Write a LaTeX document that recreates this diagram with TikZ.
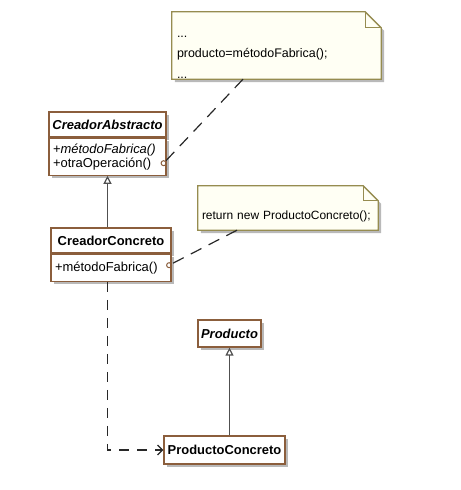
\documentclass[tikz,border=0pt]{standalone}
\usepackage{fontspec}
\setmainfont{Liberation Sans}
\usetikzlibrary{positioning,arrows.meta,shadows}
\definecolor{clsline}{RGB}{139,94,60}
\definecolor{noteline}{RGB}{150,140,80}
\definecolor{notefill}{RGB}{255,255,244}
\definecolor{shadowgray}{RGB}{185,185,185}
\definecolor{linegray}{RGB}{80,80,80}
\definecolor{linedark}{RGB}{40,40,40}
\pgfdeclarelayer{back}
\pgfsetlayers{back,main}

\begin{document}
\begin{tikzpicture}[x=1bp, y=-1bp,
    every node/.style={font=\fontsize{13}{14}\selectfont, inner sep=0pt},
    shade/.style={drop shadow={shadow xshift=3bp, shadow yshift=-3bp,
        fill=shadowgray, opacity=1}},
    cls/.style={draw=clsline, fill=white, line width=1.2bp, shade,
        font=\fontsize{13}{14}\selectfont\bfseries},
    ops/.style={cls, font=\fontsize{13}{14}\selectfont, align=left,
        inner xsep=4bp},
    note/.style={align=left, inner xsep=5bp, font=\fontsize{12}{20.5}\selectfont},
    notebg/.style={fill=notefill, draw=noteline, line width=1.3bp, shade},
    inh/.style={draw=linegray, line width=1.2bp,
        -{Triangle[open, length=8bp, width=8bp]}},
    dep/.style={draw=linedark, line width=1.2bp, dash pattern=on 10bp off 8bp,
        -{Straight Barb[length=5bp, width=10bp]}},
    link/.style={draw=linedark, line width=1.2bp, dash pattern=on 12bp off 8bp,
        shorten >=2.5bp}]
  \useasboundingbox (0,0) rectangle (461,490);

  % classes
  \node[cls, minimum width=117bp, minimum height=25bp] (ca) at (107.5,124.5)
    {\textit{CreadorAbstracto}};
  \node[ops, text width=109bp, minimum height=37bp, below=0pt of ca] (ca-ops)
    {+\textit{métodoFabrica()}\\+otraOperación()};
  \node[cls, minimum width=120bp, minimum height=25bp] (cc) at (111,240.5)
    {CreadorConcreto};
  \node[ops, text width=112bp, minimum height=27bp, below=0pt of cc] (cc-ops)
    {+métodoFabrica()};
  \node[cls, minimum width=63bp, minimum height=27bp] (pr) at (229.5,333.5)
    {\textit{Producto}};
  \node[cls, minimum width=121bp, minimum height=28bp] (pc) at (224.5,450)
    {ProductoConcreto};

  % notes
  \node[note, font=\fontsize{12.5}{20.5}\selectfont, minimum width=209bp,
    minimum height=67bp, text width=199bp] (n1)
    at (276.5,45.5) {\rule{0pt}{25bp}...\\producto=métodoFabrica();\\...};
  \node[note, inner xsep=4bp, minimum width=180bp, minimum height=44bp,
    text width=172bp] (n2) at (288,208)
    {\rule{0pt}{24.5bp}\mbox{return new ProductoConcreto();}};
  \begin{pgfonlayer}{back}
    \path[notebg] (n1.south west) -- (n1.north west) -- ([xshift=-16bp]n1.north east)
      -- ([yshift=-16bp]n1.north east) -- (n1.south east) -- cycle;
    \draw[noteline, line width=1.3bp] ([xshift=-16bp]n1.north east)
      |- ([yshift=-16bp]n1.north east);
    \path[notebg] (n2.south west) -- (n2.north west) -- ([xshift=-15bp]n2.north east)
      -- ([yshift=-15bp]n2.north east) -- (n2.south east) -- cycle;
    \draw[noteline, line width=1.3bp] ([xshift=-15bp]n2.north east)
      |- ([yshift=-15bp]n2.north east);
  \end{pgfonlayer}

  % connectors
  \draw[inh] (cc.north -| ca.south) -- (ca-ops.south);
  \draw[inh] (pc.north -| pr.south) -- (pr.south);
  \draw[dep] (cc-ops.south -| ca.south) |- (pc.west);

  \coordinate (o1) at ([xshift=-3bp, yshift=-6.5bp]ca-ops.east);
  \coordinate (o2) at ([xshift=-2.5bp, yshift=2.5bp]cc-ops.east);
  \coordinate (n1-a) at ([xshift=-33.5bp]n1.south);
  \coordinate (n2-a) at ([xshift=-51bp]n2.south);
  \draw[clsline, line width=1bp] (o1) circle (2.5bp) (o2) circle (2.5bp);
  \draw[link] (n1-a) -- (o1);
  \draw[link] (n2-a) -- (o2);
\end{tikzpicture}
\end{document}
